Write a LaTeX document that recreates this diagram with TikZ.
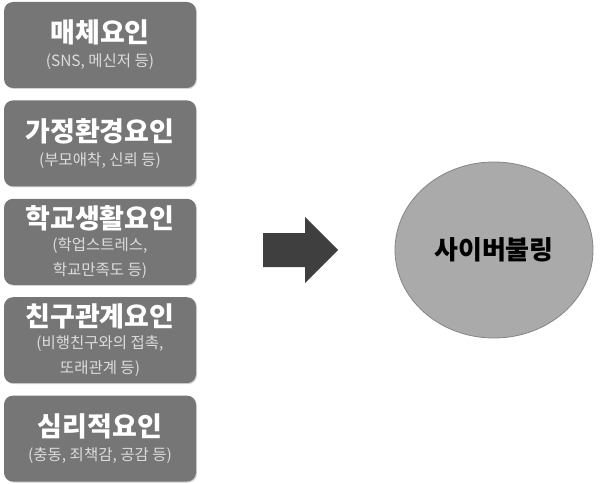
\documentclass[tikz,border=0pt]{standalone}
\usepackage{fontspec}
\setmainfont{Noto Sans CJK KR}
\usetikzlibrary{positioning}
\usetikzlibrary{shadows}
\usetikzlibrary{math}
\usetikzlibrary{calc}
\usetikzlibrary{shapes.geometric}

\definecolor{boxgray}{HTML}{767676}
\definecolor{subgray}{HTML}{DCDCDC}
\definecolor{ovalgray}{HTML}{AAAAAA}
\definecolor{ovalline}{HTML}{858585}
\definecolor{arrowgray}{HTML}{3F3F3F}

\tikzset{
  factor/.style={draw=none, fill=boxgray, rounded corners=9pt,
    minimum width=192pt, minimum height=86pt, inner sep=2pt,
    align=center, text=white, font=\bfseries\fontsize{27}{29}\selectfont,
    drop shadow={shadow xshift=1pt, shadow yshift=-1pt, opacity=0.35}}
}
\newcommand{\subtxt}[1]{{\color{subgray}\mdseries\fontsize{15.5}{18}\selectfont #1}}

\begin{document}
\begin{tikzpicture}[x=1pt,y=-1pt]

  \tikzmath{
    \gap    = 12;  % space between the factor boxes
    \shaft  = 17;  % half height of arrow shaft
    \head   = 33;  % half height of arrow head
  }

  \useasboundingbox (0,0) rectangle (600,484);

  % factor boxes on the left
  \node[factor] (media) at (100,45) {매체요인\\[-5pt]\subtxt{(SNS, 메신저 등)}};
  \node[factor, below=\gap pt of media] (family) {가정환경요인\\[-5pt]\subtxt{(부모애착, 신뢰 등)}};
  \node[factor, below=\gap pt of family] (school) {학교생활요인\\[-7pt]\subtxt{(학업스트레스,}\\[-4pt]\subtxt{학교만족도 등)}};
  \node[factor, below=\gap pt of school] (friend) {친구관계요인\\[-7pt]\subtxt{(비행친구와의 접촉,}\\[-4pt]\subtxt{또래관계 등)}};
  \node[factor, below=\gap pt of friend] (psych) {심리적요인\\[-5pt]\subtxt{(충동, 죄책감, 공감 등)}};

  % outcome oval
  \node[ellipse, draw=ovalline, fill=ovalgray, line width=0.8pt,
    minimum width=198pt, minimum height=176pt,
    font=\bfseries\fontsize{26}{28}\selectfont] (cyber) at (494,250) {사이버불링};

  % block arrow
  \coordinate (tail) at (263,250);
  \coordinate (neck) at (305,250);
  \coordinate (tip)  at (338,250);
  \fill[arrowgray] ($ (tail) + (0,-\shaft) $) -- ($ (neck) + (0,-\shaft) $)
    -- ($ (neck) + (0,-\head) $) -- (tip) -- ($ (neck) + (0,\head) $)
    -- ($ (neck) + (0,\shaft) $) -- ($ (tail) + (0,\shaft) $) -- cycle;

\end{tikzpicture}
\end{document}
